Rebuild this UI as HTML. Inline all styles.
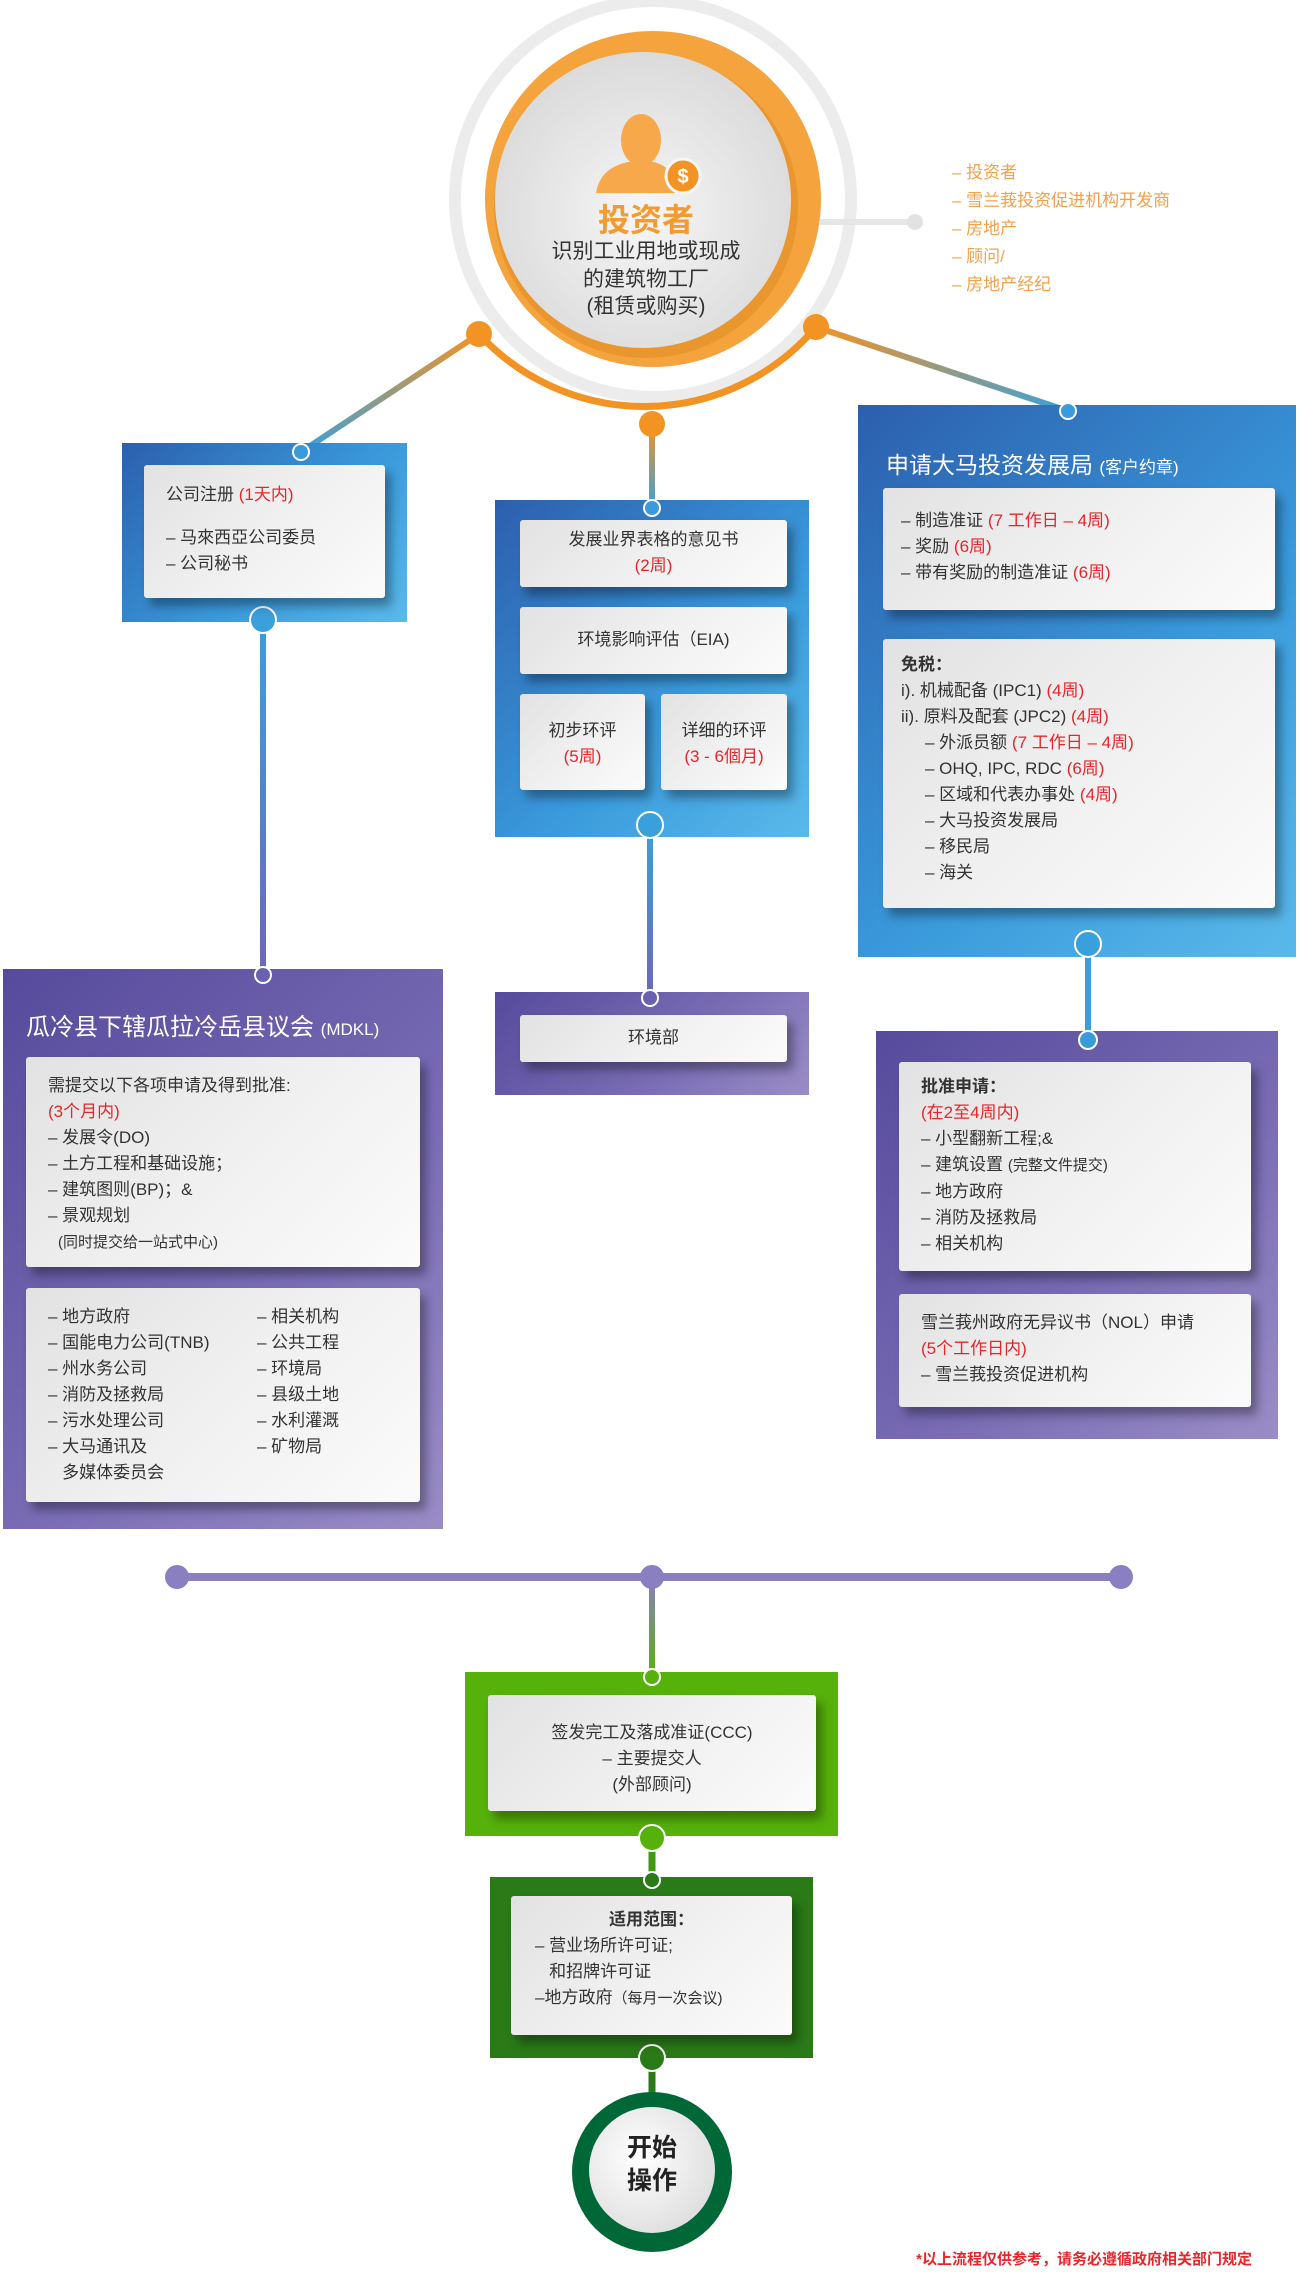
<!DOCTYPE html>
<html><head><meta charset="utf-8">
<style>
*{margin:0;padding:0;box-sizing:border-box}
body{width:1300px;height:2283px;position:relative;background:#fff;font-family:"Liberation Sans","Noto Sans CJK SC",sans-serif;color:#333;overflow:hidden}
.a{position:absolute}
.blue{background:linear-gradient(135deg,#2c5fae 0%,#3a9bdc 60%,#5ab9ea 100%)}
.purp{background:linear-gradient(135deg,#564a9c 0%,#7a6db5 60%,#9a8dc6 100%)}
.card{position:absolute;background:linear-gradient(135deg,#e2e2e2 0%,#f0f0f0 50%,#fbfbfb 100%);border-radius:3px;box-shadow:6px 8px 10px rgba(0,0,0,.35);font-size:17px;line-height:26px}
.r{color:#e8262a}
.c{text-align:center}
.w{color:#fff}
</style></head><body>

<svg class="a" style="left:0;top:0" width="1300" height="2283">
<defs>
<linearGradient id="gl" x1="479" y1="334" x2="301" y2="452" gradientUnits="userSpaceOnUse"><stop offset="0" stop-color="#f39324"/><stop offset="1" stop-color="#3aa0dc"/></linearGradient>
<linearGradient id="gr" x1="816" y1="327" x2="1068" y2="411" gradientUnits="userSpaceOnUse"><stop offset="0" stop-color="#f39324"/><stop offset="1" stop-color="#3aa0dc"/></linearGradient>
<linearGradient id="gc" x1="0" y1="424" x2="0" y2="508" gradientUnits="userSpaceOnUse"><stop offset="0" stop-color="#f39324"/><stop offset="1" stop-color="#3aa0dc"/></linearGradient>
<linearGradient id="gv1" x1="0" y1="617" x2="0" y2="969" gradientUnits="userSpaceOnUse"><stop offset="0" stop-color="#3aa0dc"/><stop offset="1" stop-color="#6d68b8"/></linearGradient>
<linearGradient id="gv2" x1="0" y1="825" x2="0" y2="992" gradientUnits="userSpaceOnUse"><stop offset="0" stop-color="#3aa0dc"/><stop offset="1" stop-color="#6d68b8"/></linearGradient>
<linearGradient id="gv4" x1="0" y1="1577" x2="0" y2="1677" gradientUnits="userSpaceOnUse"><stop offset="0" stop-color="#8a7fc0"/><stop offset="1" stop-color="#56b10a"/></linearGradient>
</defs>
<circle cx="653" cy="199" r="198" fill="none" stroke="#ececec" stroke-width="12"/>
<path d="M479 334 A225 225 0 0 0 816 327" fill="none" stroke="#f39324" stroke-width="7"/>
<line x1="820" y1="222" x2="915" y2="222" stroke="#e6e6e6" stroke-width="6"/>
<circle cx="915" cy="222" r="8" fill="#e2e2e2"/>
<line x1="479" y1="334" x2="301" y2="452" stroke="url(#gl)" stroke-width="6"/>
<line x1="816" y1="327" x2="1068" y2="411" stroke="url(#gr)" stroke-width="6"/>
<line x1="652" y1="424" x2="652" y2="508" stroke="url(#gc)" stroke-width="6"/>
<line x1="263" y1="617" x2="263" y2="975" stroke="url(#gv1)" stroke-width="6"/>
<line x1="650" y1="825" x2="650" y2="998" stroke="url(#gv2)" stroke-width="6"/>
<line x1="1088" y1="944" x2="1088" y2="1040" stroke="#3aa0dc" stroke-width="6"/>
<line x1="177" y1="1577" x2="1121" y2="1577" stroke="#8a7fc0" stroke-width="8"/>
<line x1="652" y1="1577" x2="652" y2="1680" stroke="url(#gv4)" stroke-width="6"/>
<line x1="652" y1="1838" x2="652" y2="1880" stroke="#3e9a10" stroke-width="7"/>
<line x1="652" y1="2058" x2="652" y2="2100" stroke="#2a7a18" stroke-width="7"/>
</svg>

<div class="a blue" style="left:122px;top:443px;width:285px;height:179px"></div>
<div class="a blue" style="left:495px;top:500px;width:314px;height:337px"></div>
<div class="a blue" style="left:858px;top:405px;width:438px;height:552px"></div>
<div class="a purp" style="left:495px;top:992px;width:314px;height:103px"></div>
<div class="a purp" style="left:3px;top:969px;width:440px;height:560px"></div>
<div class="a purp" style="left:876px;top:1031px;width:402px;height:408px"></div>
<div class="a" style="left:465px;top:1672px;width:373px;height:164px;background:#56b10a"></div>
<div class="a" style="left:490px;top:1877px;width:323px;height:181px;background:#2a7a18"></div>

<svg class="a" style="left:0;top:0" width="1300" height="2283">
<defs>
<radialGradient id="ig" cx="0.5" cy="0.55" r="0.6"><stop offset="0" stop-color="#f6f6f6"/><stop offset="1" stop-color="#d8d8d8"/></radialGradient>
<radialGradient id="sg" cx="0.4" cy="0.4" r="0.7"><stop offset="0" stop-color="#ffffff"/><stop offset="1" stop-color="#dcdcdc"/></radialGradient>
</defs>
<circle cx="479" cy="334" r="13" fill="#f39324"/>
<circle cx="652" cy="424" r="13" fill="#f39324"/>
<circle cx="816" cy="327" r="13" fill="#f39324"/>
<circle cx="301" cy="452" r="8" fill="#3a9bdc" stroke="#fff" stroke-width="2"/>
<circle cx="652" cy="508" r="8" fill="#3a9bdc" stroke="#fff" stroke-width="2"/>
<circle cx="1068" cy="411" r="8" fill="#3a9bdc" stroke="#fff" stroke-width="2"/>
<circle cx="263" cy="620" r="13" fill="#3aa0dc" stroke="#fff" stroke-width="2"/>
<circle cx="650" cy="825" r="13" fill="#3aa0dc" stroke="#fff" stroke-width="2"/>
<circle cx="1088" cy="944" r="13" fill="#3aa0dc" stroke="#fff" stroke-width="2"/>
<circle cx="263" cy="975" r="8" fill="#6a62b0" stroke="#fff" stroke-width="2"/>
<circle cx="650" cy="998" r="8" fill="#6a62b0" stroke="#fff" stroke-width="2"/>
<circle cx="1088" cy="1040" r="9" fill="#3a9bdc" stroke="#fff" stroke-width="2"/>
<circle cx="177" cy="1577" r="12" fill="#8a7fc0"/>
<circle cx="652" cy="1577" r="12" fill="#8a7fc0"/>
<circle cx="1121" cy="1577" r="12" fill="#8a7fc0"/>
<circle cx="652" cy="1677" r="8" fill="#56b10a" stroke="#fff" stroke-width="2"/>
<circle cx="652" cy="1838" r="13" fill="#56b10a" stroke="#fff" stroke-width="2"/>
<circle cx="652" cy="1880" r="8" fill="#2a7a18" stroke="#fff" stroke-width="2"/>
<circle cx="652" cy="2058" r="13" fill="#2a7a18" stroke="#fff" stroke-width="2"/>
<circle cx="653" cy="199" r="168" fill="#f5a33d"/>
<circle cx="646" cy="206" r="152" fill="#e08a20" opacity="0.5"/>
<circle cx="643" cy="200" r="148" fill="url(#ig)"/>
<ellipse cx="641" cy="140" rx="20" ry="26" fill="#f6a84a"/>
<path d="M596 193 Q600 168 628 162 L654 162 Q676 168 680 193 Z" fill="#f6a84a"/>
<circle cx="683" cy="176" r="17" fill="#f39324" stroke="#f6f6f6" stroke-width="3"/>
<text x="683" y="183" font-size="20" font-weight="bold" fill="#fff" text-anchor="middle" font-family="Liberation Sans">$</text>
<circle cx="652" cy="2172" r="80" fill="#006837"/>
<circle cx="652" cy="2170" r="63" fill="url(#sg)"/>
</svg>

<div class="a c" style="left:516px;top:202px;width:260px;font-size:32px;font-weight:bold;color:#f39a30;line-height:36px">投资者</div>
<div class="a c" style="left:496px;top:238px;width:300px;font-size:21px;line-height:27.5px;color:#333">识别工业用地或现成<br>的建筑物工厂<br>(租赁或购买)</div>
<div class="a" style="left:952px;top:159px;font-size:17px;line-height:28px;color:#f5a04a">– 投资者<br>– 雪兰莪投资促进机构开发商<br>– 房地产<br>– 顾问/<br>– 房地产经纪</div>

<div class="card" style="left:144px;top:465px;width:241px;height:133px;padding:17px 0 0 22px">公司注册 <span class="r">(1天内)</span><div style="height:17px"></div>– 马來西亞公司委员<br>– 公司秘书</div>

<div class="card c" style="left:520px;top:520px;width:267px;height:67px;padding-top:7px">发展业界表格的意见书<br><span class="r">(2周)</span></div>
<div class="card c" style="left:520px;top:607px;width:267px;height:67px;padding-top:20px">环境影响评估（EIA)</div>
<div class="card c" style="left:520px;top:694px;width:125px;height:96px;padding-top:24px">初步环评<br><span class="r">(5周)</span></div>
<div class="card c" style="left:661px;top:694px;width:126px;height:96px;padding-top:24px">详细的环评<br><span class="r">(3 - 6個月)</span></div>
<div class="card c" style="left:520px;top:1015px;width:267px;height:47px;padding-top:10px">环境部</div>

<div class="a w" style="left:886px;top:449px;font-size:23px;line-height:32px">申请大马投资发展局 <span style="font-size:17px">(客户约章)</span></div>
<div class="card" style="left:883px;top:488px;width:392px;height:122px;padding:20px 0 0 18px">– 制造准证 <span class="r">(7 工作日 – 4周)</span><br>– 奖励 <span class="r">(6周)</span><br>– 带有奖励的制造准证 <span class="r">(6周)</span></div>
<div class="card" style="left:883px;top:639px;width:392px;height:269px;padding:13px 0 0 18px"><b>免税：</b><br>i). 机械配备 (IPC1) <span class="r">(4周)</span><br>ii). 原料及配套 (JPC2) <span class="r">(4周)</span><div style="padding-left:24px">– 外派员额 <span class="r">(7 工作日 – 4周)</span><br>– OHQ, IPC, RDC <span class="r">(6周)</span><br>– 区域和代表办事处 <span class="r">(4周)</span><br>– 大马投资发展局<br>– 移民局<br>– 海关</div></div>

<div class="a w" style="left:26px;top:1011px;font-size:24px;line-height:34px">瓜冷县下辖瓜拉冷岳县议会 <span style="font-size:17px">(MDKL)</span></div>
<div class="card" style="left:26px;top:1057px;width:394px;height:210px;padding:16px 0 0 22px">需提交以下各项申请及得到批准:<br><span class="r">(3个月内)</span><br>– 发展令(DO)<br>– 土方工程和基础设施；<br>– 建筑图则(BP)；&amp;<br>– 景观规划<br><span style="font-size:15px;padding-left:10px;line-height:20px">(同时提交给一站式中心)</span></div>
<div class="card" style="left:26px;top:1288px;width:394px;height:214px;padding:16px 0 0 22px"><div class="a" style="left:22px;top:16px">– 地方政府<br>– 国能电力公司(TNB)<br>– 州水务公司<br>– 消防及拯救局<br>– 污水处理公司<br>– 大马通讯及<br>&nbsp;&nbsp;&nbsp;多媒体委员会</div><div class="a" style="left:231px;top:16px">– 相关机构<br>– 公共工程<br>– 环境局<br>– 县级土地<br>– 水利灌溉<br>– 矿物局</div></div>

<div class="card" style="left:899px;top:1062px;width:352px;height:209px;padding:12px 0 0 22px"><b>批准申请：</b><br><span class="r">(在2至4周内)</span><br>– 小型翻新工程;&amp;<br>– 建筑设置 <span style="font-size:15px">(完整文件提交)</span><br>– 地方政府<br>– 消防及拯救局<br>– 相关机构</div>
<div class="card" style="left:899px;top:1294px;width:352px;height:113px;padding:16px 0 0 22px">雪兰莪州政府无异议书（NOL）申请<br><span class="r">(5个工作日内)</span><br>– 雪兰莪投资促进机构</div>

<div class="card c" style="left:488px;top:1695px;width:328px;height:116px;padding-top:25px">签发完工及落成准证(CCC)<br>– 主要提交人<br>(外部顾问)</div>
<div class="card" style="left:511px;top:1896px;width:281px;height:139px;padding:11px 0 0 24px"><div class="c" style="margin-left:-24px"><b>适用范围：</b></div>– 营业场所许可证;<br>&nbsp;&nbsp;&nbsp;和招牌许可证<br>–地方政府<span style="font-size:15px">（每月一次会议)</span></div>

<div class="a c" style="left:592px;top:2132px;width:120px;font-size:25px;font-weight:bold;line-height:33px;color:#222">开始<br>操作</div>
<div class="a" style="right:48px;top:2248px;font-size:15px;color:#e8262a;font-weight:bold">*以上流程仅供参考，请务必遵循政府相关部门规定</div>
</body></html>
